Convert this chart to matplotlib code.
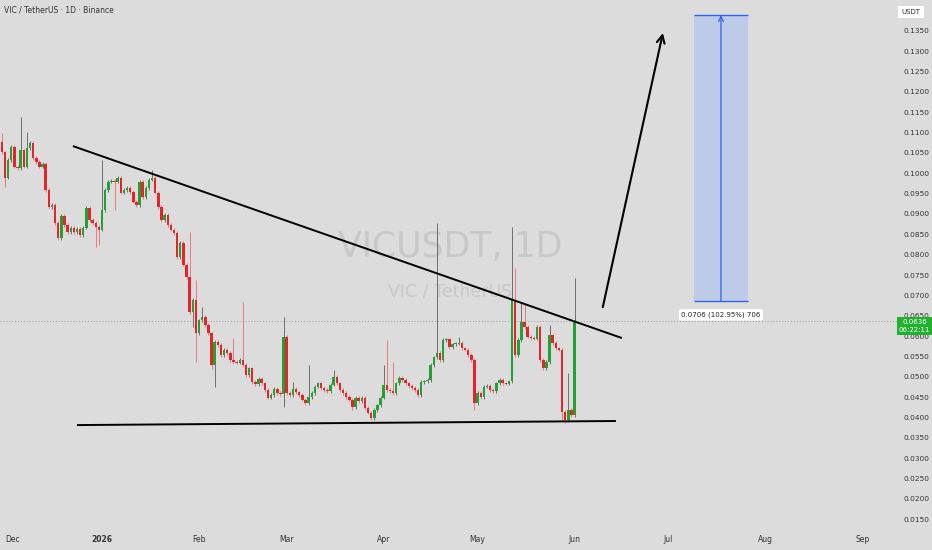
import matplotlib
matplotlib.use("Agg")
import matplotlib.pyplot as plt
import matplotlib.dates as mdates
import pandas as pd
import numpy as np
from matplotlib.patches import Rectangle
from matplotlib.transforms import blended_transform_factory

# ---------------- data ----------------
start_date = "2025-11-30"
first_open = 0.1077
closes = [
    0.1052, 0.0989, 0.1033, 0.1065, 0.1016, 0.1013, 0.1057, 0.1016, 0.1062, 0.1075,
    0.1038, 0.1028, 0.1016, 0.1023, 0.0959, 0.0917, 0.0922, 0.0878, 0.0841, 0.0895,
    0.0873, 0.0856, 0.0866, 0.0856, 0.0863, 0.0848, 0.0866, 0.0915, 0.0885, 0.0878,
    0.0868, 0.0861, 0.0910, 0.0959, 0.0979, 0.0981, 0.0979, 0.0989, 0.0952, 0.0959,
    0.0964, 0.0954, 0.0930, 0.0922, 0.0979, 0.0942, 0.0964, 0.0984, 0.0989, 0.0952,
    0.0917, 0.0885, 0.0898, 0.0873, 0.0861, 0.0853, 0.0794, 0.0829, 0.0775, 0.0745,
    0.0659, 0.0689, 0.0607, 0.0639, 0.0647, 0.0627, 0.0607, 0.0529, 0.0585, 0.0578,
    0.0553, 0.0566, 0.0558, 0.0541, 0.0536, 0.0534, 0.0541, 0.0529, 0.0504, 0.0521,
    0.0487, 0.0482, 0.0494, 0.0484, 0.0467, 0.0448, 0.0455, 0.0470, 0.0460, 0.0457,
    0.0598, 0.0460, 0.0455, 0.0470, 0.0462, 0.0455, 0.0443, 0.0435, 0.0450, 0.0460,
    0.0475, 0.0484, 0.0472, 0.0467, 0.0465, 0.0480, 0.0499, 0.0484, 0.0467, 0.0460,
    0.0450, 0.0443, 0.0425, 0.0448, 0.0440, 0.0448, 0.0423, 0.0411, 0.0398, 0.0418,
    0.0430, 0.0448, 0.0480, 0.0467, 0.0465, 0.0460, 0.0484, 0.0497, 0.0492, 0.0484,
    0.0477, 0.0472, 0.0467, 0.0455, 0.0487, 0.0489, 0.0492, 0.0529, 0.0548, 0.0558,
    0.0541, 0.0590, 0.0592, 0.0573, 0.0580, 0.0581, 0.0583, 0.0570, 0.0566, 0.0553,
    0.0541, 0.0435, 0.0460, 0.0450, 0.0475, 0.0477, 0.0467, 0.0465, 0.0484, 0.0492,
    0.0484, 0.0483, 0.0489, 0.0689, 0.0553, 0.0590, 0.0634, 0.0622, 0.0598, 0.0595,
    0.0593, 0.0622, 0.0541, 0.0521, 0.0536, 0.0602, 0.0583, 0.0570, 0.0566, 0.0413,
    0.0393, 0.0418, 0.0406, 0.0636,
]
# notable wick extremes (candle index -> price)
wick_highs = {0: 0.1099, 6: 0.1139, 8: 0.1102, 32: 0.1033, 48: 0.1008, 60: 0.0856,
              62: 0.0738, 64: 0.0672, 74: 0.0595, 77: 0.0684, 90: 0.0647, 93: 0.0487,
              98: 0.0529, 106: 0.0516, 122: 0.0529, 123: 0.0590, 125: 0.0536,
              139: 0.0878, 146: 0.0598, 163: 0.0868, 164: 0.0767, 166: 0.0681,
              167: 0.0681, 175: 0.0627, 181: 0.0509, 183: 0.0743}
wick_lows = {1: 0.0966, 30: 0.0819, 31: 0.0824, 36: 0.0910, 61: 0.0622, 62: 0.0536,
             67: 0.0520, 68: 0.0475, 90: 0.0425, 112: 0.0418, 118: 0.0393,
             151: 0.0418, 179: 0.0390, 180: 0.0386}

last_price = 0.0636
countdown = "06:22:11"
y_ticks = [round(0.015 + 0.005 * k, 4) for k in range(25)]
x_tick_dates = ["2025-12-01", "2026-01-01", "2026-02-01", "2026-03-01", "2026-04-01",
                "2026-05-01", "2026-06-01", "2026-07-01", "2026-08-01", "2026-09-01"]
x_tick_labels = ["Dec", "2026", "Feb", "Mar", "Apr", "May", "Jun", "Jul", "Aug", "Sep"]

# drawings (day offset from start, price)
resistance = [(22.7, 0.1067), (198.1, 0.0595)]
support = [(24.0, 0.0381), (196.2, 0.0391)]
big_arrow = [(192.0, 0.0671), (211.2, 0.1345)]
target_box = dict(x0=221.1, x1=238.4, y0=0.0686, y1=0.1389)
target_label = "0.0706 (102.95%) 706"

# ---------------- style ----------------
BG = "#dcdcdc"
UP = "#23a032"
DN = "#e4232b"
UP_WICK = "#6f6f6f"
DN_WICK = "#e87a7f"

fig = plt.figure(figsize=(9.32, 5.5), dpi=100, facecolor=BG)
ax = fig.add_axes([0, 23 / 550, 897 / 932, 527 / 550])
ax.set_facecolor(BG)
for s in ax.spines.values():
    s.set_visible(False)

dates = pd.date_range(start_date, periods=len(closes), freq="D")
xs = mdates.date2num(dates)
x0 = xs[0]
opens = [first_open] + closes[:-1]

pad = 0.0004
bottoms, heights, colors, highs, lows, wcols = [], [], [], [], [], []
for i, (o, c) in enumerate(zip(opens, closes)):
    up = c >= o
    lo_b, hi_b = min(o, c), max(o, c)
    bottoms.append(lo_b)
    heights.append(max(hi_b - lo_b, 0.00025))
    colors.append(UP if up else DN)
    wcols.append(UP_WICK if up else DN_WICK)
    highs.append(wick_highs.get(i, hi_b + pad))
    lows.append(wick_lows.get(i, lo_b - pad))

ax.vlines(xs, lows, highs, colors=wcols, linewidth=0.7, zorder=2)
ax.bar(xs, heights, bottom=bottoms, width=0.78, color=colors, linewidth=0, zorder=3)

# watermark
wm_font = ["Liberation Sans Narrow", "DejaVu Sans"]
ax.text(0.502, 0.532, "VICUSDT, 1D", transform=ax.transAxes, ha="center", va="center",
        fontsize=25, color="#c8c8c8", family=wm_font, zorder=0)
ax.text(0.502, 0.446, "VIC / TetherUS", transform=ax.transAxes, ha="center", va="center",
        fontsize=12.5, color="#c8c8c8", family=wm_font, zorder=0)

# current price dotted line
ax.axhline(last_price, color="#8f9f8f", linestyle=(0, (1, 2)), linewidth=0.7, zorder=1)

# trend lines
ax.plot([x0 + resistance[0][0], x0 + resistance[1][0]], [resistance[0][1], resistance[1][1]],
        color="black", linewidth=1.4, zorder=4, solid_capstyle="butt")
ax.plot([x0 + support[0][0], x0 + support[1][0]], [support[0][1], support[1][1]],
        color="black", linewidth=1.4, zorder=4, solid_capstyle="butt")

# big arrow
ax.annotate("", xy=(x0 + big_arrow[1][0], big_arrow[1][1]),
            xytext=(x0 + big_arrow[0][0], big_arrow[0][1]),
            arrowprops=dict(arrowstyle="->", color="black", lw=1.5, mutation_scale=14,
                            shrinkA=0, shrinkB=0), zorder=4)

# target box
bx0, bx1 = x0 + target_box["x0"], x0 + target_box["x1"]
by0, by1 = target_box["y0"], target_box["y1"]
ax.add_patch(Rectangle((bx0, by0), bx1 - bx0, by1 - by0, facecolor="#bdcae8",
                       edgecolor="none", zorder=2))
ax.hlines([by0, by1], bx0, bx1, colors="#2f66f0", linewidth=1.0, zorder=3)
bmid = (bx0 + bx1) / 2
ax.annotate("", xy=(bmid, by1), xytext=(bmid, by0),
            arrowprops=dict(arrowstyle="->", color="#2f66f0", lw=0.9, mutation_scale=9,
                            shrinkA=0, shrinkB=0), zorder=3)
ax.text(bmid, 0.0652, target_label, ha="center", va="center", fontsize=5, color="#222222",
        bbox=dict(boxstyle="round,pad=0.35,rounding_size=0.3", facecolor="white",
                  edgecolor="none"), zorder=5)

# axes
ax.set_xlim(x0 - 0.597, x0 + 286.0)
ax.set_ylim(0.013037, 0.14262)
ax.yaxis.tick_right()
ax.set_yticks(y_ticks)
ax.set_yticklabels([f"{v:.4f}" for v in y_ticks])
ax.tick_params(axis="y", length=0, pad=5, labelsize=5.3, labelcolor="#333333")
ax.set_xticks(mdates.date2num(pd.to_datetime(x_tick_dates)))
ax.set_xticklabels(x_tick_labels)
ax.tick_params(axis="x", length=0, pad=6, labelsize=5.5, labelcolor="#333333")
for lab in ax.get_xticklabels():
    if lab.get_text() == "2026":
        lab.set_fontweight("bold")
    if lab.get_text() == "Dec":
        lab.set_horizontalalignment("left")

# price tag on axis
tr = blended_transform_factory(fig.transFigure, ax.transData)
fig.text(914.5 / 932, 0.0625, f"{last_price:.4f}\n{countdown}", transform=tr,
         ha="center", va="center", fontsize=5, color="white", linespacing=1.5,
         bbox=dict(boxstyle="square,pad=0.3", facecolor="#22b02e", edgecolor="none"),
         zorder=10)

# USDT box
fig.text(911 / 932, 1 - 12 / 550, "USDT", ha="center", va="center", fontsize=5,
         color="#333333", bbox=dict(boxstyle="square,pad=0.5", facecolor="white",
                                     edgecolor="none"))

# title
fig.text(4 / 932, 1 - 10 / 550, "VIC / TetherUS · 1D · Binance", ha="left", va="center",
         fontsize=5.5, color="#333333")

fig.savefig("out.png", dpi=100, facecolor=BG)
